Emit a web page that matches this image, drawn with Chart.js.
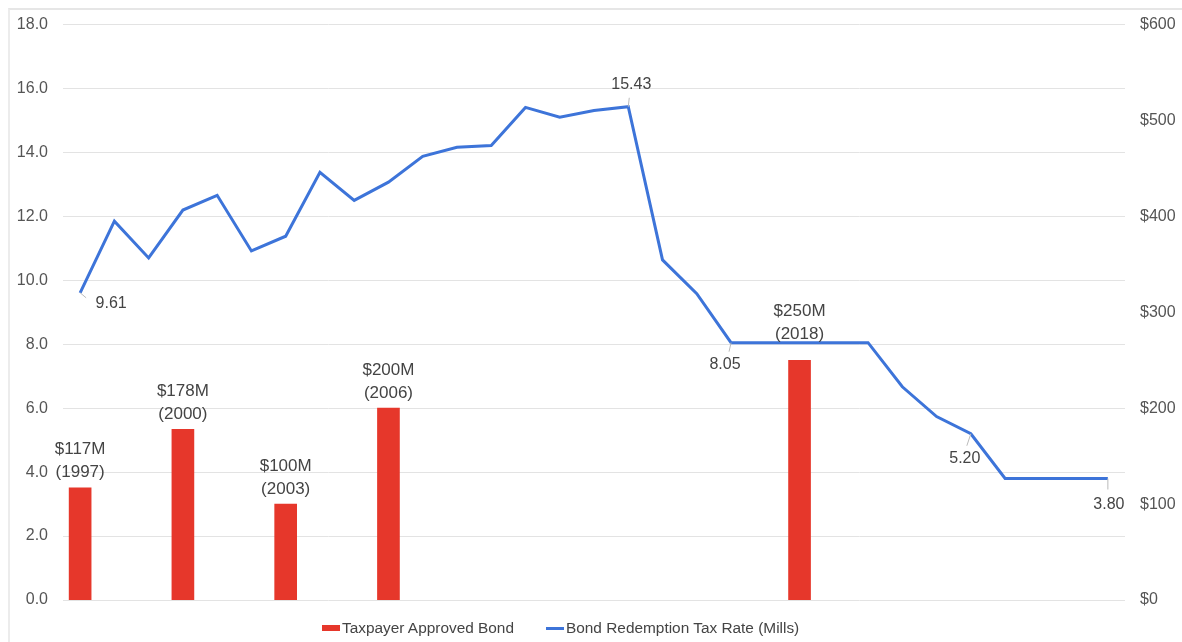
<!DOCTYPE html>
<html>
<head>
<meta charset="utf-8">
<script src="https://cdn.jsdelivr.net/npm/chart.js@4.4.1/dist/chart.umd.min.js"></script>
<style>
  html, body { margin: 0; padding: 0; background: #fff; }
  #wrap { position: relative; width: 1182px; height: 642px; overflow: hidden; }
  #frame { position: absolute; left: 8px; top: 8px; right: 0; bottom: 0;
           border-top: 2px solid #e6e6e6; border-left: 2px solid #ececec; }
  canvas { position: absolute; left: 0; top: 0; }
  #legend { position: absolute; left: 322px; top: 619px; display: flex; align-items: center;
            font: 15.4px "Liberation Sans", Arial, sans-serif; color: #444; white-space: nowrap; }
  #legend .item { display: flex; align-items: center; margin-right: 32px; }
  #legend .sw { width: 18px; margin-right: 2px; }
</style>
</head>
<body>
<div id="wrap">
  <div id="frame"></div>
  <canvas id="myChart" width="1182" height="642"></canvas>
  <div id="legend"></div>
</div>
<script>
// years on the x axis
const years = [];
for (let y = 1997; y <= 2027; y++) years.push(String(y));

// bond redemption tax rate (mills)
const taxRate = [
  9.61, 11.85, 10.70, 12.20, 12.66, 10.92, 11.38, 13.38, 12.50, 13.07,
  13.88, 14.16, 14.22, 15.41, 15.10, 15.31, 15.43, 10.64, 9.58, 8.05,
  8.05, 8.05, 8.05, 8.05, 6.67, 5.74, 5.20, 3.80, 3.80, 3.80, 3.80
];

// taxpayer approved bonds ($M) and their years
const bondYears = ['1997', '2000', '2003', '2006', '2018'];
const bondAmounts = [117, 178, 100, 200, 250];

// which tax rate points get a label
const rateLabelYears = ['1997', '2013', '2016', '2023', '2027'];

const bondData = years.map(y => {
  const i = bondYears.indexOf(y);
  return i >= 0 ? bondAmounts[i] : null;
});

const FONT = '"Liberation Sans", Arial, sans-serif';
const RED = '#e6372b';
const BLUE = '#3d74d9';

// simple inline label plugin (no datalabels plugin available)
const labelPlugin = {
  id: 'valueLabels',
  afterDatasetsDraw(chart) {
    const ctx = chart.ctx;
    ctx.save();
    ctx.font = '17px ' + FONT;
    ctx.fillStyle = '#444';
    ctx.textAlign = 'center';
    ctx.textBaseline = 'middle';

    // bar labels
    const barMeta = chart.getDatasetMeta(1);
    bondYears.forEach((yr, k) => {
      const el = barMeta.data[years.indexOf(yr)];
      const lift = yr === '2018' ? 11 : 0;
      ctx.fillText('$' + bondAmounts[k] + 'M', el.x, el.y - 38 - lift);
      ctx.fillText('(' + yr + ')', el.x, el.y - 15 - lift);
    });

    // line labels with small leader lines
    const offs = {
      '1997': [31, 11, 6, 5],
      '2013': [3, -22, 1, -9],
      '2016': [-6, 22, -2, 9],
      '2023': [-6, 25, -4, 12],
      '2027': [1, 26, 0, 11]
    };
    const lineMeta = chart.getDatasetMeta(0);
    ctx.font = '16px ' + FONT;
    rateLabelYears.forEach(yr => {
      const i = years.indexOf(yr);
      const el = lineMeta.data[i];
      const o = offs[yr];
      ctx.strokeStyle = '#bbb';
      ctx.lineWidth = 1;
      ctx.beginPath();
      ctx.moveTo(el.x, el.y);
      ctx.lineTo(el.x + o[2], el.y + o[3]);
      ctx.stroke();
      ctx.fillText(taxRate[i].toFixed(2), el.x + o[0], el.y + o[1]);
    });
    ctx.restore();
  }
};

const data = {
  labels: years,
  datasets: [
    {
      type: 'line',
      label: 'Bond Redemption Tax Rate (Mills)',
      data: taxRate,
      yAxisID: 'y',
      borderColor: BLUE,
      backgroundColor: BLUE,
      borderWidth: 3,
      pointRadius: 0,
      tension: 0,
      order: 0
    },
    {
      type: 'bar',
      label: 'Taxpayer Approved Bond',
      data: bondData,
      yAxisID: 'y1',
      backgroundColor: RED,
      borderWidth: 0,
      barThickness: 22,
      order: 1
    }
  ]
};

const config = {
  data,
  options: {
    responsive: false,
    animation: false,
    layout: { padding: { left: 0, right: 0, top: 13, bottom: 42 } },
    scales: {
      x: {
        display: false,
        offset: true
      },
      y: {
        position: 'left',
        min: 0,
        max: 18,
        afterFit: s => { s.width = 63; },
        ticks: {
          stepSize: 2,
          padding: 15,
          color: '#555',
          font: { size: 16, family: FONT },
          callback: v => v.toFixed(1)
        },
        grid: { color: '#e3e3e3', drawTicks: false },
        border: { display: false }
      },
      y1: {
        position: 'right',
        min: 0,
        max: 600,
        afterFit: s => { s.width = 57; },
        ticks: {
          stepSize: 100,
          padding: 15,
          color: '#555',
          font: { size: 16, family: FONT },
          callback: v => '$' + v
        },
        grid: { display: false, drawTicks: false },
        border: { display: false }
      }
    },
    plugins: {
      tooltip: { enabled: false },
      legend: { display: false }
    }
  },
  plugins: [labelPlugin]
};

const myChart = new Chart(document.getElementById('myChart'), config);

// html legend built from the datasets (bar first, then line)
const legendEl = document.getElementById('legend');
[1, 0].forEach(i => {
  const ds = myChart.data.datasets[i];
  const item = document.createElement('div');
  item.className = 'item';
  const sw = document.createElement('span');
  sw.className = 'sw';
  sw.style.background = ds.type === 'bar' ? ds.backgroundColor : ds.borderColor;
  sw.style.height = ds.type === 'bar' ? '6px' : '3px';
  const txt = document.createElement('span');
  txt.textContent = ds.label;
  item.appendChild(sw);
  item.appendChild(txt);
  legendEl.appendChild(item);
});
</script>
</body>
</html>
